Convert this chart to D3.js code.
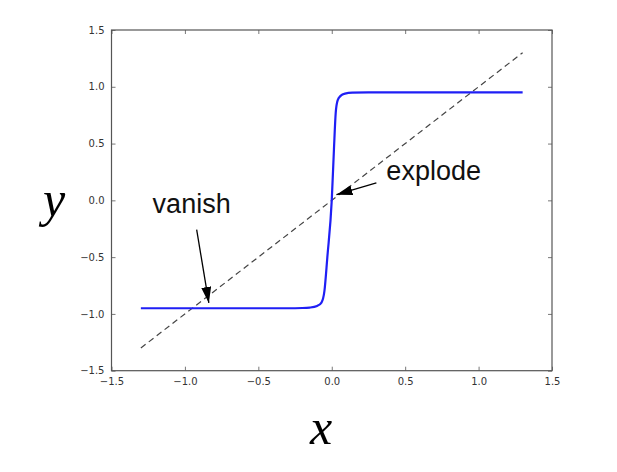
<!DOCTYPE html>
<html>
<head>
<meta charset="utf-8">
<script src="https://cdn.jsdelivr.net/npm/d3@7"></script>
<style>
  body { margin: 0; background: #fff; }
  svg text { font-family: "DejaVu Sans", sans-serif; }
</style>
</head>
<body>
<div id="chart"></div>
<script>
// tanh-like curve
let curveX = [-1.3, -0.5, -0.3, -0.2, -0.15, -0.1, -0.07, -0.05, -0.03, 0, 0.015, 0.027, 0.04, 0.06, 0.09, 0.14, 0.25, 0.5, 1.3];
let curveY = [-0.95, -0.95, -0.95, -0.948, -0.944, -0.93, -0.9, -0.8, -0.5, 0, 0.45, 0.77, 0.88, 0.92, 0.94, 0.948, 0.95, 0.95, 0.95];

// identity line
let diagX = [-1.3, 1.3];
let diagY = [-1.3, 1.3];

let tickValues = [-1.5, -1.0, -0.5, 0.0, 0.5, 1.0, 1.5];

// annotations: text position and arrow (tail -> tip), in data units
let noteText = ["vanish", "explode"];
let noteTextX = [-1.22, 0.372];
let noteTextY = [-0.111, 0.182];
let noteTailX = [-0.92, 0.304];
let noteTailY = [-0.258, 0.153];
let noteTipX = [-0.837, 0.032];
let noteTipY = [-0.903, 0.05];

let width = 617, height = 472;
let margin = { left: 111.5, right: 65, top: 30, bottom: 101.3 };

let svg = d3.select("#chart").append("svg")
    .attr("width", width)
    .attr("height", height);

let x = d3.scaleLinear().domain([-1.5, 1.5]).range([margin.left, width - margin.right]);
let y = d3.scaleLinear().domain([-1.5, 1.5]).range([height - margin.bottom, margin.top]);

let fmt = d => d3.format(".1f")(d).replace("-", "\u2212");

// inward ticks on all four sides
let axisB = d3.axisBottom(x).tickValues(tickValues).tickSizeInner(-4).tickSizeOuter(0).tickPadding(7).tickFormat(fmt);
let axisT = d3.axisTop(x).tickValues(tickValues).tickSizeInner(-4).tickSizeOuter(0).tickFormat("");
let axisL = d3.axisLeft(y).tickValues(tickValues).tickSizeInner(-4).tickSizeOuter(0).tickPadding(7).tickFormat(fmt);
let axisR = d3.axisRight(y).tickValues(tickValues).tickSizeInner(-4).tickSizeOuter(0).tickFormat("");

function styleAxis(g) {
    g.select(".domain").remove();
    g.selectAll(".tick line").attr("stroke", "#555").attr("stroke-width", 0.8);
    g.selectAll(".tick text").attr("fill", "#333").style("font-size", "10px");
}

svg.append("g").attr("transform", "translate(0," + y(-1.5) + ")").call(axisB).call(styleAxis);
svg.append("g").attr("transform", "translate(0," + y(1.5) + ")").call(axisT).call(styleAxis);
svg.append("g").attr("transform", "translate(" + x(-1.5) + ",0)").call(axisL).call(styleAxis);
svg.append("g").attr("transform", "translate(" + x(1.5) + ",0)").call(axisR).call(styleAxis);

// dashed diagonal
let line = d3.line().x(d => x(d[0])).y(d => y(d[1]));
svg.append("path")
    .datum(d3.zip(diagX, diagY))
    .attr("d", line)
    .attr("fill", "none")
    .attr("stroke", "#444")
    .attr("stroke-width", 1.2)
    .attr("stroke-dasharray", "6,4");

// blue curve
svg.append("path")
    .datum(d3.zip(curveX, curveY))
    .attr("d", d3.line().x(d => x(d[0])).y(d => y(d[1])).curve(d3.curveMonotoneX))
    .attr("fill", "none")
    .attr("stroke", "#1f1ff5")
    .attr("stroke-width", 2.2);

// frame
svg.append("rect")
    .attr("x", x(-1.5))
    .attr("y", y(1.5))
    .attr("width", x(1.5) - x(-1.5))
    .attr("height", y(-1.5) - y(1.5))
    .attr("fill", "none")
    .attr("stroke", "#555")
    .attr("stroke-width", 1.2);

// annotations
svg.append("defs").append("marker")
    .attr("id", "head")
    .attr("viewBox", "0 0 16 10")
    .attr("refX", 16)
    .attr("refY", 5)
    .attr("markerWidth", 16)
    .attr("markerHeight", 10)
    .attr("markerUnits", "userSpaceOnUse")
    .attr("orient", "auto")
    .append("path")
    .attr("d", "M0,0 L16,5 L0,10 Z")
    .attr("fill", "black");

noteText.forEach(function (t, i) {
    svg.append("line")
        .attr("x1", x(noteTailX[i]))
        .attr("y1", y(noteTailY[i]))
        .attr("x2", x(noteTipX[i]))
        .attr("y2", y(noteTipY[i]))
        .attr("stroke", "black")
        .attr("stroke-width", 1.3)
        .attr("marker-end", "url(#head)");

    svg.append("text")
        .attr("x", x(noteTextX[i]))
        .attr("y", y(noteTextY[i]))
        .text(t)
        .style("font-family", "'Liberation Sans', Arial, sans-serif")
        .style("font-size", "27px")
        .attr("fill", "#111");
});

// axis labels
svg.append("text")
    .attr("x", 321)
    .attr("y", 444)
    .attr("text-anchor", "middle")
    .text("x")
    .style("font-family", "'Liberation Serif', serif")
    .style("font-style", "italic")
    .style("font-size", "50px");

svg.append("text")
    .attr("x", 54)
    .attr("y", 216)
    .attr("text-anchor", "middle")
    .text("y")
    .style("font-family", "'Liberation Serif', serif")
    .style("font-style", "italic")
    .style("font-size", "50px");
</script>
</body>
</html>
